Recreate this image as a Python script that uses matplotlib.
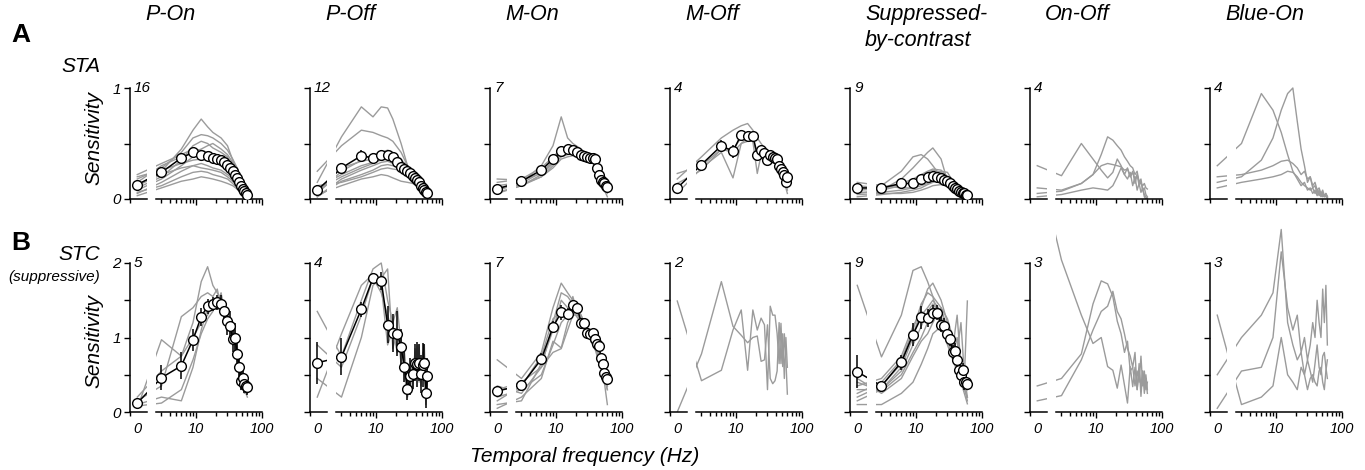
import numpy as np
import matplotlib.pyplot as plt

plt.rcParams['font.family'] = ['Liberation Sans', 'DejaVu Sans']

# cell types and cell counts
cell_types = ['P-On', 'P-Off', 'M-On', 'M-Off', 'Suppressed-\nby-contrast', 'On-Off', 'Blue-On']
n_sta = [16, 12, 7, 4, 9, 4, 4]
n_stc = [5, 4, 7, 2, 9, 3, 3]

# temporal frequencies (Hz); 0 is the DC point on the broken axis
freqs = [0, 3, 6, 9, 12, 15, 18, 21, 24, 27, 30, 33, 36, 39, 42, 45, 48, 51, 54, 57, 60]
freqs_coarse = [0, 3, 6, 9, 12, 15, 18, 24, 30, 36, 42, 48, 54, 60]

# ---------------- A: STA ----------------
pon_sta_mean = [0.13, 0.24, 0.37, 0.42, 0.40, 0.39, 0.37, 0.36, 0.35, 0.33, 0.31, 0.28, 0.25, 0.22, 0.19, 0.15, 0.12, 0.09, 0.07, 0.05, 0.04]
pon_sta_err = [0.02, 0.03, 0.03, 0.04, 0.03, 0.03, 0.03, 0.03, 0.03, 0.03, 0.03, 0.03, 0.02, 0.02, 0.02, 0.02, 0.02, 0.01, 0.01, 0.01, 0.01]
pon_sta_cells = [
    [0.12, 0.25, 0.45, 0.62, 0.72, 0.65, 0.60, 0.55, 0.48, 0.35, 0.25, 0.15, 0.08, 0.04],
    [0.18, 0.28, 0.42, 0.55, 0.58, 0.57, 0.55, 0.50, 0.44, 0.36, 0.28, 0.18, 0.10, 0.05],
    [0.10, 0.20, 0.35, 0.48, 0.52, 0.50, 0.46, 0.42, 0.38, 0.30, 0.22, 0.14, 0.08, 0.04],
    [0.15, 0.30, 0.38, 0.42, 0.45, 0.48, 0.50, 0.45, 0.40, 0.33, 0.25, 0.16, 0.08, 0.03],
    [0.08, 0.18, 0.30, 0.38, 0.40, 0.38, 0.36, 0.34, 0.30, 0.26, 0.20, 0.13, 0.07, 0.04],
    [0.20, 0.26, 0.32, 0.35, 0.36, 0.35, 0.34, 0.32, 0.28, 0.24, 0.18, 0.12, 0.07, 0.05],
    [0.05, 0.15, 0.25, 0.30, 0.32, 0.30, 0.28, 0.26, 0.22, 0.18, 0.14, 0.10, 0.06, 0.03],
    [0.12, 0.22, 0.28, 0.30, 0.28, 0.27, 0.26, 0.24, 0.20, 0.16, 0.12, 0.08, 0.05, 0.03],
    [0.06, 0.12, 0.20, 0.24, 0.25, 0.24, 0.22, 0.20, 0.18, 0.14, 0.10, 0.07, 0.04, 0.02],
    [0.22, 0.32, 0.40, 0.45, 0.44, 0.42, 0.40, 0.38, 0.34, 0.28, 0.22, 0.14, 0.08, 0.05],
    [0.03, 0.10, 0.16, 0.18, 0.20, 0.19, 0.18, 0.16, 0.14, 0.12, 0.09, 0.06, 0.04, 0.02],
]

poff_sta_mean = [0.08, 0.28, 0.39, 0.37, 0.40, 0.40, 0.38, 0.33, 0.29, 0.27, 0.25, 0.23, 0.21, 0.19, 0.17, 0.15, 0.12, 0.10, 0.08, 0.06, 0.05]
poff_sta_err = [0.02, 0.04, 0.05, 0.04, 0.04, 0.04, 0.03, 0.03, 0.03, 0.03, 0.03, 0.02, 0.02, 0.02, 0.02, 0.02, 0.02, 0.01, 0.01, 0.01, 0.01]
poff_sta_cells = [
    [0.15, 0.56, 0.83, 0.74, 0.83, 0.82, 0.72, 0.50, 0.30, 0.20, 0.14, 0.10, 0.06, 0.03],
    [0.25, 0.48, 0.62, 0.60, 0.57, 0.55, 0.52, 0.42, 0.30, 0.22, 0.15, 0.10, 0.06, 0.03],
    [0.05, 0.25, 0.35, 0.40, 0.42, 0.44, 0.42, 0.36, 0.28, 0.22, 0.16, 0.10, 0.06, 0.03],
    [0.10, 0.22, 0.30, 0.33, 0.35, 0.36, 0.35, 0.30, 0.26, 0.20, 0.15, 0.10, 0.06, 0.03],
    [0.02, 0.18, 0.26, 0.30, 0.33, 0.34, 0.32, 0.30, 0.25, 0.20, 0.15, 0.10, 0.05, 0.02],
    [0.08, 0.20, 0.28, 0.32, 0.36, 0.38, 0.36, 0.32, 0.27, 0.22, 0.16, 0.10, 0.05, 0.02],
    [0.12, 0.15, 0.20, 0.24, 0.27, 0.28, 0.27, 0.26, 0.24, 0.20, 0.15, 0.10, 0.06, 0.03],
    [0.04, 0.12, 0.18, 0.20, 0.22, 0.21, 0.19, 0.16, 0.15, 0.14, 0.12, 0.08, 0.05, 0.02],
    [0.06, 0.28, 0.34, 0.36, 0.39, 0.40, 0.38, 0.34, 0.30, 0.25, 0.18, 0.12, 0.07, 0.03],
    [0.02, 0.16, 0.22, 0.26, 0.30, 0.31, 0.30, 0.28, 0.24, 0.18, 0.14, 0.09, 0.04, 0.02],
]

mon_sta_mean = [0.09, 0.16, 0.26, 0.36, 0.43, 0.45, 0.44, 0.42, 0.40, 0.39, 0.38, 0.37, 0.37, 0.36, 0.28, 0.22, 0.17, 0.15, 0.14, 0.12, 0.11]
mon_sta_err = [0.01, 0.02, 0.02, 0.03, 0.03, 0.02, 0.02, 0.02, 0.02, 0.02, 0.02, 0.02, 0.02, 0.02, 0.02, 0.02, 0.02, 0.02, 0.02, 0.02, 0.02]
mon_sta_cells = [
    [0.12, 0.15, 0.30, 0.48, 0.74, 0.55, 0.50, 0.45, 0.40, 0.38, 0.25, 0.15, 0.08, 0.02],
    [0.15, 0.18, 0.28, 0.38, 0.45, 0.47, 0.46, 0.44, 0.42, 0.40, 0.30, 0.18, 0.12, 0.08],
    [0.08, 0.14, 0.24, 0.34, 0.42, 0.44, 0.43, 0.40, 0.38, 0.36, 0.28, 0.16, 0.10, 0.06],
    [0.05, 0.12, 0.22, 0.32, 0.40, 0.42, 0.40, 0.38, 0.36, 0.35, 0.26, 0.14, 0.08, 0.05],
    [0.10, 0.13, 0.20, 0.30, 0.38, 0.40, 0.41, 0.40, 0.39, 0.37, 0.30, 0.20, 0.14, 0.10],
    [0.18, 0.17, 0.23, 0.33, 0.41, 0.43, 0.42, 0.41, 0.37, 0.34, 0.24, 0.15, 0.10, 0.07],
    [0.06, 0.12, 0.20, 0.28, 0.36, 0.38, 0.39, 0.37, 0.35, 0.33, 0.27, 0.17, 0.11, 0.07],
]

moff_sta_mean = [0.10, 0.31, 0.48, 0.43, 0.58, 0.57, 0.57, 0.40, 0.44, 0.41, 0.35, 0.40, 0.38, 0.37, 0.36, 0.30, 0.27, 0.24, 0.22, 0.15, 0.20]
moff_sta_err = [0.03, 0.03, 0.05, 0.06, 0.04, 0.03, 0.03, 0.05, 0.03, 0.03, 0.03, 0.03, 0.03, 0.03, 0.03, 0.03, 0.03, 0.03, 0.03, 0.03, 0.03]
moff_sta_cells = [
    [0.18, 0.38, 0.55, 0.62, 0.66, 0.68, 0.62, 0.55, 0.50, 0.46, 0.42, 0.40, 0.38, 0.35, 0.32, 0.28, 0.24, 0.20, 0.16, 0.12, 0.08],
    [0.05, 0.28, 0.42, 0.19, 0.50, 0.55, 0.52, 0.23, 0.40, 0.38, 0.33, 0.38, 0.36, 0.34, 0.33, 0.28, 0.26, 0.20, 0.14, 0.10, 0.05],
    [0.23, 0.30, 0.45, 0.45, 0.55, 0.52, 0.55, 0.38, 0.42, 0.40, 0.36, 0.40, 0.37, 0.35, 0.34, 0.30, 0.28, 0.24, 0.18, 0.14, 0.12],
    [0.14, 0.26, 0.45, 0.42, 0.50, 0.52, 0.52, 0.42, 0.45, 0.42, 0.32, 0.38, 0.37, 0.36, 0.35, 0.31, 0.26, 0.22, 0.18, 0.14, 0.10],
]

sbc_sta_mean = [0.10, 0.10, 0.14, 0.14, 0.18, 0.20, 0.21, 0.20, 0.19, 0.17, 0.16, 0.14, 0.12, 0.10, 0.09, 0.07, 0.06, 0.05, 0.05, 0.04, 0.04]
sbc_sta_err = [0.02, 0.02, 0.03, 0.03, 0.03, 0.04, 0.04, 0.04, 0.03, 0.03, 0.03, 0.02, 0.02, 0.02, 0.02, 0.02, 0.01, 0.01, 0.01, 0.01, 0.01]
sbc_sta_cells = [
    [0.05, 0.08, 0.18, 0.28, 0.36, 0.42, 0.46, 0.36, 0.16, 0.10, 0.05, 0.03, 0.02, 0.01],
    [0.08, 0.12, 0.25, 0.38, 0.40, 0.36, 0.30, 0.20, 0.12, 0.08, 0.05, 0.03, 0.02, 0.01],
    [0.10, 0.08, 0.12, 0.16, 0.20, 0.24, 0.26, 0.24, 0.20, 0.14, 0.08, 0.05, 0.03, 0.02],
    [0.12, 0.10, 0.13, 0.15, 0.18, 0.20, 0.22, 0.22, 0.18, 0.12, 0.07, 0.04, 0.03, 0.02],
    [0.06, 0.06, 0.08, 0.10, 0.14, 0.18, 0.22, 0.25, 0.24, 0.16, 0.08, 0.04, 0.10, 0.02],
    [0.02, 0.04, 0.06, 0.08, 0.10, 0.13, 0.15, 0.17, 0.16, 0.12, 0.06, 0.03, 0.02, 0.01],
    [0.15, 0.12, 0.10, 0.10, 0.12, 0.14, 0.16, 0.18, 0.15, 0.10, 0.06, 0.04, 0.03, 0.02],
    [0.04, 0.05, 0.05, 0.06, 0.08, 0.10, 0.12, 0.13, 0.12, 0.09, 0.05, 0.03, 0.02, 0.01],
    [0.08, 0.09, 0.14, 0.18, 0.22, 0.25, 0.27, 0.26, 0.20, 0.12, 0.07, 0.04, 0.03, 0.02],
]

onoff_sta_cells = [
    [0.30, 0.21, 0.50, 0.36, 0.26, 0.19, 0.24, 0.36, 0.30, 0.22, 0.28, 0.20, 0.25, 0.14, 0.22, 0.12, 0.16, 0.08, 0.10, 0.04, 0.02],
    [0.10, 0.08, 0.14, 0.22, 0.40, 0.56, 0.53, 0.48, 0.44, 0.38, 0.34, 0.30, 0.28, 0.22, 0.25, 0.15, 0.18, 0.08, 0.04, 0.02, 0.00],
    [0.05, 0.07, 0.14, 0.22, 0.30, 0.32, 0.31, 0.30, 0.29, 0.26, 0.27, 0.20, 0.24, 0.18, 0.22, 0.16, 0.14, 0.12, 0.14, 0.10, 0.09],
    [0.02, 0.04, 0.08, 0.10, 0.09, 0.08, 0.12, 0.20, 0.28, 0.22, 0.18, 0.24, 0.12, 0.20, 0.08, 0.14, 0.06, 0.10, 0.02, 0.00, 0.01],
]

blue_sta_cells = [
    [0.30, 0.50, 0.95, 0.80, 0.60, 0.40, 0.25, 0.18, 0.12, 0.15, 0.08, 0.10, 0.05, 0.08, 0.03, 0.06, 0.02, 0.04, 0.02, 0.05, 0.02],
    [0.15, 0.20, 0.35, 0.55, 0.80, 0.95, 1.00, 0.70, 0.45, 0.30, 0.15, 0.20, 0.10, 0.12, 0.05, 0.08, 0.03, 0.06, 0.02, 0.04, 0.02],
    [0.20, 0.22, 0.26, 0.30, 0.34, 0.35, 0.32, 0.28, 0.22, 0.25, 0.18, 0.20, 0.12, 0.15, 0.08, 0.10, 0.05, 0.08, 0.03, 0.05, 0.02],
    [0.10, 0.15, 0.18, 0.20, 0.22, 0.25, 0.24, 0.20, 0.15, 0.12, 0.10, 0.08, 0.10, 0.05, 0.08, 0.03, 0.05, 0.02, 0.04, 0.02, 0.01],
]

# ---------------- B: STC (suppressive) ----------------
pon_stc_mean = [0.12, 0.46, 0.62, 0.97, 1.28, 1.42, 1.45, 1.47, 1.45, 1.35, 1.22, 1.15, 0.98, 1.00, 0.78, 0.60, 0.42, 0.45, 0.38, 0.35, 0.33]
pon_stc_err = [0.04, 0.17, 0.18, 0.15, 0.12, 0.10, 0.10, 0.10, 0.12, 0.15, 0.18, 0.20, 0.18, 0.20, 0.15, 0.15, 0.12, 0.15, 0.12, 0.10, 0.10]
pon_stc_cells = [
    [0.05, 0.97, 0.75, 1.20, 1.75, 1.95, 1.70, 1.60, 1.50, 1.30, 1.10, 1.20, 0.90, 1.05, 0.70, 0.50, 0.35, 0.50, 0.30, 0.25, 0.20],
    [0.15, 0.35, 1.28, 1.40, 1.55, 1.60, 1.55, 1.65, 1.40, 1.45, 1.25, 1.10, 1.05, 0.85, 0.90, 0.65, 0.55, 0.40, 0.45, 0.30, 0.35],
    [0.10, 0.20, 0.15, 0.60, 1.10, 1.40, 1.50, 1.45, 1.60, 1.35, 1.40, 1.05, 1.20, 0.95, 0.75, 0.70, 0.45, 0.55, 0.35, 0.40, 0.30],
    [0.20, 0.55, 0.75, 1.00, 1.20, 1.30, 1.45, 1.40, 1.35, 1.40, 1.15, 1.25, 0.90, 1.10, 0.80, 0.55, 0.50, 0.35, 0.40, 0.45, 0.40],
    [0.08, 0.12, 0.30, 0.70, 1.05, 1.25, 1.35, 1.50, 1.45, 1.25, 1.20, 1.10, 1.00, 0.90, 0.70, 0.60, 0.30, 0.40, 0.25, 0.30, 0.25],
]

poff_stc_mean = [0.66, 0.74, 1.38, 1.80, 1.76, 1.17, 1.06, 1.05, 0.87, 0.60, 0.31, 0.48, 0.51, 0.66, 0.64, 0.66, 0.51, 0.63, 0.66, 0.26, 0.48]
poff_stc_err = [0.28, 0.25, 0.10, 0.05, 0.12, 0.25, 0.25, 0.30, 0.25, 0.20, 0.15, 0.25, 0.20, 0.25, 0.30, 0.25, 0.25, 0.30, 0.25, 0.20, 0.25]
poff_stc_cells = [
    [1.35, 0.75, 1.50, 1.92, 2.00, 1.50, 1.20, 1.40, 0.90, 0.80, 0.40, 0.60, 0.30, 0.85, 0.50, 0.90, 0.35, 0.75, 0.90, 0.20, 0.60],
    [0.20, 1.05, 1.70, 1.85, 1.70, 0.90, 1.10, 0.80, 1.00, 0.50, 0.20, 0.35, 0.70, 0.50, 0.90, 0.40, 0.70, 0.45, 0.55, 0.35, 0.30],
    [0.45, 0.20, 1.00, 1.70, 1.80, 1.92, 0.85, 1.10, 0.65, 0.55, 0.45, 0.60, 0.40, 0.80, 0.55, 0.70, 0.40, 0.80, 0.50, 0.10, 0.50],
    [0.90, 0.60, 1.30, 1.80, 1.60, 1.30, 1.05, 0.90, 0.90, 0.55, 0.25, 0.40, 0.65, 0.55, 0.60, 0.65, 0.55, 0.55, 0.75, 0.40, 0.45],
]

mon_stc_mean = [0.28, 0.36, 0.71, 1.14, 1.34, 1.32, 1.44, 1.40, 1.20, 1.19, 1.06, 1.05, 1.06, 0.98, 0.91, 0.88, 0.73, 0.64, 0.53, 0.47, 0.44]
mon_stc_err = [0.05, 0.04, 0.08, 0.08, 0.10, 0.08, 0.06, 0.06, 0.06, 0.06, 0.06, 0.06, 0.06, 0.06, 0.06, 0.06, 0.06, 0.05, 0.05, 0.05, 0.05]
mon_stc_cells = [
    [0.70, 0.45, 0.80, 1.40, 1.73, 1.60, 1.50, 1.30, 1.10, 1.00, 0.90, 0.70, 0.50, 0.30],
    [0.35, 0.25, 0.60, 1.20, 1.60, 1.55, 1.45, 1.25, 1.05, 1.00, 0.85, 0.65, 0.45, 0.35],
    [0.10, 0.15, 0.65, 1.10, 1.50, 1.40, 1.45, 1.20, 1.10, 0.95, 0.80, 0.60, 0.40, 0.10],
    [0.20, 0.30, 0.50, 0.90, 1.20, 1.30, 1.40, 1.25, 1.05, 0.90, 0.85, 0.70, 0.55, 0.40],
    [0.05, 0.20, 0.45, 0.95, 0.86, 1.20, 1.35, 1.20, 1.10, 0.95, 0.75, 0.60, 0.50, 0.35],
    [0.30, 0.40, 0.60, 0.80, 0.85, 1.10, 1.30, 1.30, 1.00, 1.05, 0.90, 0.75, 0.45, 0.30],
    [0.15, 0.35, 0.75, 1.25, 1.35, 1.25, 1.55, 1.15, 1.05, 0.90, 0.80, 0.65, 0.50, 0.40],
]

moff_stc_cells = [
    [1.49, 0.42, 0.56, 1.10, 1.37, 0.56, 1.37, 1.10, 1.26, 1.17, 0.30, 1.42, 1.30, 1.30, 1.05, 0.65, 1.19, 0.61, 1.05, 0.70, 0.24],
    [0.00, 0.78, 1.75, 1.15, 1.03, 0.93, 1.00, 1.02, 0.68, 0.70, 1.17, 0.45, 0.38, 0.42, 0.55, 1.20, 0.65, 1.05, 0.45, 1.00, 0.60],
]

sbc_stc_mean = [0.54, 0.35, 0.67, 1.04, 1.27, 1.26, 1.33, 1.33, 1.17, 1.16, 1.05, 0.98, 0.80, 0.82, 0.70, 0.57, 0.50, 0.56, 0.40, 0.40, 0.38]
sbc_stc_err = [0.22, 0.04, 0.10, 0.15, 0.15, 0.12, 0.10, 0.10, 0.10, 0.10, 0.10, 0.10, 0.10, 0.10, 0.10, 0.10, 0.10, 0.10, 0.10, 0.08, 0.08]
sbc_stc_cells = [
    [1.70, 0.74, 1.30, 1.90, 1.95, 1.75, 1.55, 1.10, 0.95, 0.80, 0.60, 0.50, 0.40, 0.30],
    [0.30, 0.30, 0.60, 1.00, 1.40, 1.65, 1.73, 1.50, 1.20, 1.00, 0.80, 1.20, 0.50, 0.20],
    [0.25, 0.40, 0.70, 1.10, 1.45, 1.60, 1.55, 1.40, 1.10, 0.85, 1.30, 0.60, 0.35, 0.15],
    [0.20, 0.35, 0.65, 1.05, 1.30, 1.40, 1.50, 1.35, 1.15, 0.95, 0.75, 0.55, 0.45, 1.49],
    [0.35, 0.45, 0.75, 1.15, 1.35, 1.30, 1.40, 1.20, 1.05, 0.90, 0.70, 0.50, 0.40, 0.30],
    [0.15, 0.30, 0.55, 0.90, 1.15, 1.35, 1.45, 1.30, 0.95, 0.75, 1.00, 0.45, 0.30, 0.20],
    [0.40, 0.28, 0.50, 0.80, 1.00, 1.20, 1.35, 1.25, 1.00, 0.80, 0.65, 0.50, 0.40, 0.35],
    [0.10, 0.10, 0.25, 0.40, 0.64, 0.85, 1.05, 1.15, 0.90, 0.70, 0.55, 0.40, 0.25, 0.11],
    [0.45, 0.25, 0.45, 0.75, 0.95, 1.05, 1.20, 1.40, 1.25, 1.00, 0.80, 0.60, 0.45, 0.35],
]

onoff_stc_cells = [
    [3.40, 2.04, 1.30, 0.92, 1.00, 0.61, 0.56, 0.32, 0.63, 0.36, 0.12, 0.61, 0.34, 0.60, 0.30, 0.65, 0.21, 0.55, 0.35, 0.50, 0.30],
    [0.35, 0.45, 0.78, 1.45, 1.76, 1.72, 1.55, 1.22, 1.05, 0.80, 0.95, 0.55, 0.60, 0.35, 0.55, 0.40, 0.75, 0.35, 0.55, 0.30, 0.40],
    [0.15, 0.22, 0.70, 1.10, 1.35, 1.42, 1.62, 1.35, 1.25, 1.05, 0.85, 0.75, 0.60, 0.80, 0.30, 0.55, 0.35, 0.55, 0.25, 0.45, 0.25],
]

blue_stc_cells = [
    [0.50, 1.00, 1.30, 1.60, 2.45, 1.20, 0.90, 0.70, 0.80, 0.50, 0.70, 0.55, 0.40, 0.65, 0.90, 0.60, 0.50, 0.75, 0.80, 0.60, 0.45],
    [0.05, 0.55, 0.60, 1.00, 2.15, 1.40, 1.10, 1.30, 0.80, 1.00, 0.70, 0.90, 1.20, 1.00, 1.50, 1.20, 1.00, 1.65, 1.20, 1.70, 0.90],
    [1.30, 0.10, 0.20, 0.35, 1.00, 0.50, 0.40, 0.30, 0.60, 0.50, 0.30, 0.45, 0.50, 0.40, 0.35, 0.55, 0.60, 0.40, 0.30, 0.55, 0.70],
]

sta_means = [pon_sta_mean, poff_sta_mean, mon_sta_mean, moff_sta_mean, sbc_sta_mean, None, None]
sta_errs = [pon_sta_err, poff_sta_err, mon_sta_err, moff_sta_err, sbc_sta_err, None, None]
sta_cells = [pon_sta_cells, poff_sta_cells, mon_sta_cells, moff_sta_cells, sbc_sta_cells, onoff_sta_cells, blue_sta_cells]
stc_means = [pon_stc_mean, poff_stc_mean, mon_stc_mean, None, sbc_stc_mean, None, None]
stc_errs = [pon_stc_err, poff_stc_err, mon_stc_err, None, sbc_stc_err, None, None]
stc_cells = [pon_stc_cells, poff_stc_cells, mon_stc_cells, moff_stc_cells, sbc_stc_cells, onoff_stc_cells, blue_stc_cells]

# ---------------- layout (pixels) ----------------
W, H = 1365, 470
fig = plt.figure(figsize=(W / 100, H / 100), dpi=100)
fig.patch.set_facecolor('white')

GREY = '#9b9b9b'
U0 = 0.11          # where f = 0 sits on the shared log axis
PXU = 66.0         # pixels per decade
SMALL_XLIM = (0.0, 0.26)
MAIN_XLIM = (0.40, 2.005)


def to_u(f):
    f = np.asarray(f, dtype=float)
    return np.where(f > 0, np.log10(np.where(f > 0, f, 1.0)), U0)


def add_px_axes(x0, y_bottom, w, h):
    return fig.add_axes([x0 / W, 1 - y_bottom / H, w / W, h / H])


def style_axes(ax, left):
    ax.patch.set_visible(False)
    for s in ['top', 'right']:
        ax.spines[s].set_visible(False)
    ax.spines['left'].set_visible(left)
    for s in ['left', 'bottom']:
        ax.spines[s].set_linewidth(1.1)
    ax.tick_params(direction='out', width=1.0, length=4.5, labelsize=10.5, pad=2)
    ax.tick_params(which='minor', direction='out', width=1.0, length=3)


def draw_series(ax, cells, mean, err):
    for line in cells:
        fr = freqs if len(line) == len(freqs) else freqs_coarse
        ax.plot(to_u(fr), line, color=GREY, lw=1.0, zorder=2)
    if mean is not None:
        ax.errorbar(to_u(freqs), mean, yerr=err, fmt='-o', color='k', lw=1.1,
                    elinewidth=1.1, capsize=0, ms=7, mfc='white', mec='k',
                    mew=1.0, zorder=3)


rows = [
    dict(bottom=199, scale=111.0, ymax=1, main_ymax=1.2, yticks=[0, 0.5, 1],
         ylabels=['0', '', '1'], means=sta_means, errs=sta_errs, cells=sta_cells, n=n_sta,
         xlabels=False),
    dict(bottom=412, scale=74.5, ymax=2, main_ymax=2.6, yticks=[0, 0.5, 1, 1.5, 2],
         ylabels=['0', '', '1', '', '2'], means=stc_means, errs=stc_errs, cells=stc_cells, n=n_stc,
         xlabels=True),
]

minor_u = np.log10([3, 4, 5, 6, 7, 8, 9, 20, 30, 40, 50, 60, 70, 80, 90])

for r, row in enumerate(rows):
    for c in range(7):
        xc = 130 + 180 * c
        ax_s = add_px_axes(xc, row['bottom'], (SMALL_XLIM[1] - SMALL_XLIM[0]) * PXU,
                           row['ymax'] * row['scale'])
        ax_m = add_px_axes(xc + MAIN_XLIM[0] * PXU, row['bottom'],
                           (MAIN_XLIM[1] - MAIN_XLIM[0]) * PXU,
                           row['main_ymax'] * row['scale'])
        style_axes(ax_s, True)
        style_axes(ax_m, False)

        for ax in (ax_s, ax_m):
            draw_series(ax, row['cells'][c], row['means'][c], row['errs'][c])

        ax_s.set_xlim(*SMALL_XLIM)
        ax_s.set_ylim(0, row['ymax'])
        ax_m.set_xlim(*MAIN_XLIM)
        ax_m.set_ylim(0, row['main_ymax'])

        # y axis on the small (f = 0) axes
        ax_s.set_yticks(row['yticks'])
        if c == 0:
            ax_s.set_yticklabels(row['ylabels'], fontstyle='italic', fontsize=11)
        else:
            ax_s.set_yticklabels([])
        ax_s.set_xticks([U0])
        ax_s.set_xticks([0.0], minor=True)
        ax_s.tick_params(axis='x', which='major', length=0, pad=7.5)
        ax_s.set_xticklabels(['0'] if row['xlabels'] else [''], fontstyle='italic', fontsize=10.5)

        # log-frequency axis
        ax_m.set_yticks([])
        ax_m.set_xticks([1, 2])
        ax_m.set_xticks(minor_u, minor=True)
        ax_m.tick_params(axis='x', which='major', pad=3)
        ax_m.set_xticklabels(['10', '100'] if row['xlabels'] else ['', ''],
                             fontstyle='italic', fontsize=10.5)

        # cell count
        top_px = row['bottom'] - row['ymax'] * row['scale']
        fig.text((xc + 4) / W, 1 - top_px / H, str(row['n'][c]), ha='left', va='center',
                 fontsize=11, fontstyle='italic')

        if r == 0:
            fig.text((xc + 15) / W, 1 - 4 / H, cell_types[c], ha='left', va='top',
                     fontsize=15.5, fontstyle='italic', linespacing=1.3)

# panel letters and row labels
fig.text(21 / W, 1 - 35 / H, 'A', ha='center', va='center', fontsize=19, fontweight='bold')
fig.text(100 / W, 1 - 67 / H, 'STA', ha='right', va='center', fontsize=15, fontstyle='italic')
fig.text(21 / W, 1 - 243 / H, 'B', ha='center', va='center', fontsize=19, fontweight='bold')
fig.text(100 / W, 1 - 255 / H, 'STC', ha='right', va='center', fontsize=15, fontstyle='italic')
fig.text(100 / W, 1 - 277 / H, '(suppressive)', ha='right', va='center', fontsize=11,
         fontstyle='italic')
fig.text(94 / W, 1 - 138 / H, 'Sensitivity', ha='center', va='center', rotation=90,
         fontsize=15, fontstyle='italic')
fig.text(94 / W, 1 - 341 / H, 'Sensitivity', ha='center', va='center', rotation=90,
         fontsize=15, fontstyle='italic')
fig.text(585 / W, 1 - 457 / H, 'Temporal frequency (Hz)', ha='center', va='center',
         fontsize=15, fontstyle='italic')

fig.savefig('out.png', dpi=100)
